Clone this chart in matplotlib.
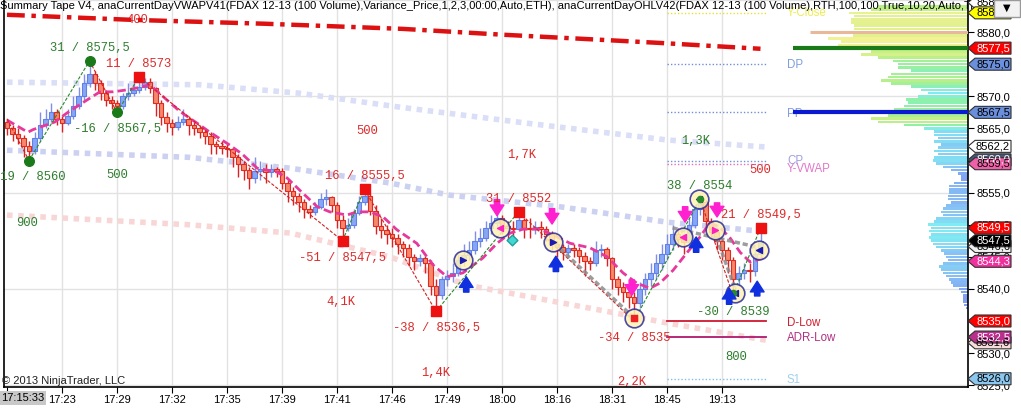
import numpy as np
import matplotlib
matplotlib.use("Agg")
import matplotlib.pyplot as plt
import matplotlib.colors as mcolors
import matplotlib.transforms as mtransforms
from matplotlib.patches import Polygon, Rectangle

plt.rcParams["font.family"] = ["Liberation Sans", "DejaVu Sans"]

W, H = 1021, 413
BAR_PX = 5.5     # pixels per volume bar
PT_PX = 6.42     # pixels per index point

# ---------------------------------------------------------------- price bars
first_open = 8566.0
closes = [
    8565.0, 8564.2, 8563.5, 8562.2, 8561.5, 8563.5, 8565.5, 8566.5, 8567.5, 8566.5,
    8565.8, 8567.0, 8568.5, 8570.0, 8572.0, 8573.5, 8572.0, 8570.5, 8569.5, 8569.0,
    8568.5, 8570.0, 8570.5, 8571.0, 8571.5, 8572.3, 8571.3, 8569.0, 8566.8, 8565.8,
    8565.2, 8566.0, 8566.5, 8565.5, 8565.0, 8564.5, 8563.8, 8562.5, 8562.2, 8562.0,
    8561.8, 8560.5, 8559.5, 8558.5, 8557.2, 8558.3, 8558.6, 8558.2, 8558.6, 8558.3,
    8556.5, 8555.2, 8554.5, 8553.5, 8552.5, 8552.0, 8552.8, 8554.0, 8554.3, 8553.0,
    8550.8, 8549.5, 8550.0, 8551.8, 8553.5, 8554.5, 8552.2, 8549.8, 8549.2, 8548.5,
    8548.0, 8547.0, 8546.3, 8545.0, 8544.3, 8544.8, 8544.0, 8540.5, 8539.0, 8541.5,
    8542.0, 8542.5, 8544.5, 8545.3, 8546.0, 8547.5, 8548.0, 8549.5, 8550.3, 8551.0,
    8549.8, 8549.5, 8549.3, 8550.8, 8549.5, 8549.3, 8549.6, 8549.3, 8548.6, 8547.0,
    8546.6, 8545.8, 8546.3, 8546.0, 8545.2, 8544.3, 8544.0, 8546.0, 8546.2, 8544.8,
    8541.5, 8540.3, 8539.5, 8538.8, 8537.8, 8540.0, 8541.5, 8542.5, 8544.0, 8545.5,
    8547.0, 8548.5, 8547.8, 8547.3, 8550.0, 8552.5, 8553.5, 8550.5, 8548.8, 8547.5,
    8546.0, 8544.5, 8541.5, 8542.5, 8543.0, 8542.8, 8545.5, 8547.5,
]
highs = [
    8566.5, 8565.5, 8565.0, 8564.0, 8563.0, 8564.5, 8567.5, 8568.0, 8569.0, 8568.0,
    8567.0, 8568.0, 8570.0, 8571.5, 8573.5, 8575.5, 8574.0, 8572.5, 8571.0, 8570.0,
    8569.5, 8570.5, 8572.0, 8572.5, 8573.0, 8572.8, 8572.8, 8571.5, 8569.5, 8567.5,
    8566.5, 8567.0, 8568.0, 8567.0, 8566.0, 8565.5, 8565.0, 8564.5, 8563.0, 8563.0,
    8562.5, 8562.0, 8561.0, 8560.0, 8559.0, 8560.5, 8560.0, 8559.5, 8559.5, 8559.0,
    8558.8, 8557.0, 8555.8, 8555.0, 8554.0, 8553.0, 8553.5, 8555.0, 8555.5, 8554.5,
    8553.5, 8551.5, 8551.0, 8552.5, 8554.5, 8555.5, 8554.8, 8553.0, 8551.0, 8550.0,
    8549.5, 8548.5, 8547.5, 8547.0, 8545.5, 8545.5, 8545.2, 8544.5, 8541.5, 8542.0,
    8543.0, 8544.0, 8545.5, 8547.0, 8547.5, 8549.0, 8549.5, 8550.5, 8551.5, 8551.8,
    8551.5, 8550.5, 8550.5, 8552.0, 8551.0, 8551.0, 8550.5, 8550.5, 8549.8, 8549.0,
    8547.5, 8547.0, 8547.0, 8547.0, 8546.5, 8545.8, 8545.0, 8547.5, 8547.0, 8546.5,
    8545.0, 8542.0, 8541.0, 8540.0, 8539.5, 8541.0, 8542.5, 8544.0, 8545.5, 8547.0,
    8548.5, 8550.0, 8549.5, 8548.5, 8551.0, 8553.0, 8554.0, 8553.8, 8551.0, 8549.5,
    8548.0, 8546.5, 8545.0, 8543.5, 8544.0, 8544.0, 8546.5, 8549.5,
]
lows = [
    8564.0, 8563.0, 8562.5, 8560.5, 8560.0, 8561.0, 8563.0, 8565.0, 8566.0, 8565.5,
    8564.5, 8565.5, 8566.5, 8568.0, 8569.5, 8571.5, 8571.0, 8569.5, 8568.5, 8568.0,
    8567.5, 8568.0, 8569.5, 8570.0, 8570.5, 8571.0, 8570.5, 8567.0, 8565.5, 8564.5,
    8564.0, 8564.8, 8565.5, 8564.0, 8564.0, 8563.5, 8562.5, 8561.0, 8561.0, 8561.0,
    8560.5, 8559.0, 8557.5, 8557.0, 8555.5, 8556.5, 8557.0, 8556.5, 8557.5, 8557.5,
    8555.5, 8553.5, 8553.0, 8552.0, 8551.0, 8551.0, 8551.5, 8552.5, 8553.0, 8552.0,
    8549.5, 8547.5, 8549.0, 8549.5, 8551.5, 8553.0, 8551.5, 8548.5, 8548.0, 8547.0,
    8546.5, 8545.5, 8545.0, 8543.5, 8543.0, 8543.5, 8542.5, 8539.0, 8536.5, 8538.5,
    8540.5, 8541.0, 8542.0, 8543.5, 8544.5, 8545.5, 8546.5, 8547.5, 8548.5, 8549.5,
    8548.5, 8547.5, 8548.0, 8549.0, 8548.0, 8548.0, 8548.5, 8548.0, 8547.5, 8546.0,
    8545.0, 8544.5, 8545.0, 8545.0, 8544.0, 8542.0, 8543.0, 8543.5, 8545.0, 8543.5,
    8540.0, 8539.0, 8538.0, 8537.0, 8535.0, 8537.0, 8539.0, 8540.5, 8541.5, 8543.0,
    8544.5, 8546.0, 8546.5, 8545.5, 8547.0, 8549.5, 8551.5, 8549.5, 8548.0, 8546.0,
    8544.5, 8542.5, 8539.0, 8540.5, 8541.5, 8541.0, 8542.0, 8545.0,
]

tick_idx = [10, 20, 30, 40, 50, 60, 70, 80, 90, 100, 110, 120, 130]
tick_labels = ["17:23", "17:29", "17:32", "17:35", "17:39", "17:41", "17:46",
               "17:49", "18:00", "18:16", "18:31", "18:45", "19:13"]
first_time = "17:15:33"

# ---------------------------------------------------------------- indicators
red_ma_idx = [0, 23, 47, 72, 90, 108, 119, 137]
red_ma_val = [8582.7, 8581.9, 8581.3, 8580.5, 8579.6, 8578.8, 8578.3, 8577.4]

band_up_idx = [0, 35, 53, 71.5, 95.6, 120, 138]
band_up_val = [8572.2, 8571.8, 8570.5, 8568.3, 8565.7, 8563.2, 8562.1]
band_mid_idx = [0, 33, 51.5, 69.6, 80.5, 100.5, 120, 138]
band_mid_val = [8561.6, 8560.5, 8558.8, 8556.5, 8554.6, 8552.8, 8550.4, 8548.9]
band_lo_idx = [0, 33, 51.5, 69.6, 83.6, 107.8, 120, 138]
band_lo_val = [8551.5, 8550.0, 8548.7, 8545.0, 8540.6, 8536.7, 8534.7, 8532.0]

hma_idx = [0, 3.8, 4.7, 8.7, 10.9, 14.5, 16.9, 19.3, 21.8, 24.2,
           26, 29.1, 31.5, 35.1, 36.9, 40.5, 42.9, 45.5, 49.1, 50.9,
           53.8, 56.4, 58.7, 61.8, 63.6, 66, 68.4, 70.9, 74.5, 77.5,
           80, 82.9, 86.5, 89.1, 91.5, 93.8, 96.9, 99.3, 102.4, 106,
           109.1, 112, 114.5, 116.9, 118.7, 121.1, 123.6, 126, 127.8, 129.6,
           131.5, 133.3, 135.1, 137.5]
hma_val = [8566.3, 8564.4, 8564.8, 8566.0, 8567.4, 8569.4, 8570.7, 8570.7, 8571.0, 8571.4,
           8571.8, 8569.4, 8567.6, 8565.5, 8564.4, 8562.4, 8560.9, 8558.8, 8558.2, 8557.3,
           8554.9, 8552.8, 8552.0, 8551.5, 8552.0, 8552.0, 8551.2, 8549.2, 8547.1, 8543.7,
           8541.9, 8542.5, 8544.8, 8547.1, 8548.7, 8549.3, 8549.3, 8548.4, 8547.1, 8546.4,
           8545.0, 8542.5, 8540.9, 8540.1, 8540.9, 8542.9, 8545.6, 8548.1, 8550.3, 8549.6,
           8547.9, 8545.7, 8544.2, 8544.8]

# swing points (zigzag)
zz_idx = [0, 4, 15, 20, 24, 61, 65, 78, 93, 114, 126, 132, 137]
zz_val = [8566.5, 8560.0, 8575.5, 8567.5, 8573.0, 8547.5, 8555.5, 8536.5, 8552.0,
          8535.0, 8554.0, 8539.0, 8549.5]
swing_idx = [4, 15, 20, 24, 61, 65, 78, 93, 114, 126, 132, 137]
swing_val = [8560.0, 8575.5, 8567.5, 8573.0, 8547.5, 8555.5, 8536.5, 8552.0,
             8535.0, 8554.0, 8539.0, 8549.5]
swing_text = ["-19 / 8560", "31 / 8575,5", "-16 / 8567,5", "11 / 8573", "-51 / 8547,5",
              "16 / 8555,5", "-38 / 8536,5", "31 / 8552", "-34 / 8535", "38 / 8554",
              "-30 / 8539", "21 / 8549,5"]
swing_is_high = [False, True, False, True, False, True, False, True, False, True, False, True]
swing_green = [True, True, True, False, False, False, False, False, False, True, True, False]
swing_dot = [True, True, True, True, True, True, True, True, False, False, False, True]

vol_text = ["400", "900", "500", "500", "4,1K", "1,4K", "1,7K", "2,2K", "1,3K", "500", "800"]
vol_idx = [23.6, 3.6, 20, 65.5, 60.7, 78, 93.6, 113.5, 125.3, 136.9, 132.5]
vol_val = [8581.9, 8550.3, 8557.7, 8564.6, 8538.0, 8526.9, 8560.9, 8525.5, 8563.0, 8558.5, 8529.4]
vol_green = [False, True, True, False, False, False, False, False, True, False, True]

trend_x0 = [99.5, 121.0, 128.5]
trend_y0 = [8547.1, 8549.5, 8549.2]
trend_x1 = [113.5, 136.5, 132.4]
trend_y1 = [8535.9, 8546.5, 8540.0]

circ_idx = [82.9, 89.6, 99.3, 114, 122.9, 125.8, 128.7, 132.4, 136.7]
circ_val = [8544.5, 8549.5, 8547.3, 8535.5, 8548.1, 8554.0, 8549.2, 8539.4, 8546.1]
circ_tri = [">", "<", ">", "<", "<", "<", ">", "<", "<"]
circ_tri_col = ["#1a1ab0", "#ff20c0", "#1a1ab0", "#ff20c0", "#ff20c0", "#1a1ab0",
                "#ff20c0", "#1a1ab0", "#1a1ab0"]

dn_idx = [89.1, 99.1, 113.6, 123.3, 129.1]
dn_tip = [8551.4, 8550.1, 8539.0, 8550.4, 8551.2]
dn_tail = [8553.9, 8552.5, 8541.4, 8552.8, 8553.4]
up_idx = [83.5, 99.8, 125.3, 131.3, 136.4]
up_tip = [8541.9, 8545.1, 8548.1, 8540.1, 8541.2]
up_tail = [8539.5, 8542.7, 8545.7, 8537.6, 8538.9]

diamond_idx = [91.8]
diamond_val = [8547.6]

# right side levels
lvl_names = ["Y-Close", "DP", "PP", "CP", "Y-VWAP", "D-Low", "ADR-Low", "S1"]
lvl_prices = [8583.0, 8575.0, 8567.5, 8560.0, 8559.5, 8535.0, 8532.5, 8526.0]
lvl_lines = ["#e8e030", "#6f8fd8", "#6f8fd8", "#6f8fd8", "#e070b8", "#d01830", "#b01870", "#80c0e8"]
lvl_text = ["#ecec50", "#7f9fdd", "#7f9fdd", "#9f9fdd", "#e078c8", "#d02030", "#b03080", "#a0d0ee"]
lvl_dotted = [True, True, True, True, True, False, False, True]
lvl_label_dy = [0.0, -0.2, -0.2, 0.0, -0.8, -0.3, -0.2, -0.2]
lvl_x0, lvl_x1 = 120, 138

# volume profile (price level, volume)
prof_price = [8584.0 - 0.5 * k for k in range(95)]
prof_vol = [90, 97, 119, 114, 117, 117, 114, 114, 115, 115,
            140, 127, 130, 122, 97, 107, 90, 75, 70, 70,
            57, 77, 80, 87, 77, 57, 47, 40, 50, 62,
            60, 64, 74, 77, 80, 97, 90, 64, 44, 34,
            34, 30, 34, 27, 30, 34, 30, 34, 35, 32,
            25, 17, 10, 7, 7, 14, 19, 19, 19, 20,
            20, 17, 22, 25, 27, 25, 32, 34, 40, 37,
            39, 37, 39, 37, 35, 32, 27, 24, 22, 20,
            25, 29, 27, 25, 22, 19, 17, 15, 9, 7,
            5, 5, 5, 4, 2]
poc_lines = [8580.0, 8577.5, 8567.5]
poc_start = [146.0, 142.9, 142.9]
poc_color = ["#e8b898", "#1a7a1a", "#0a1ad0"]
poc_lw = [2.2, 3.0, 3.0]

tag_prices = [8584.6, 8583.0, 8577.5, 8575.0, 8567.5, 8562.2, 8560.1, 8559.5, 8549.5,
              8546.6, 8547.5, 8544.3, 8535.0, 8531.6, 8532.5, 8526.0]
tag_texts = ["8585,0", "8583,0", "8577,5", "8575,0", "8567,5", "8562,2", "8560,0", "8559,5",
             "8549,5", "8546,6", "8547,5", "8544,3", "8535,0", "8531,6", "8532,5", "8526,0"]
tag_faces = ["#ffffff", "#ffff00", "#ff0000", "#6a8fdc", "#6a8fdc", "#ffffff", "#4a5578",
             "#f060a8", "#ff0000", "#f0f0f0", "#000000", "#f0309c", "#ff0000", "#f8dcdc",
             "#b8308c", "#8ac6ee"]
tag_tcols = ["#000000", "#000000", "#ffffff", "#000000", "#000000", "#000000", "#ffffff",
             "#000000", "#ffffff", "#000000", "#ffffff", "#ffffff", "#ffffff", "#000000",
             "#ffffff", "#000000"]

TITLE = ("Summary Tape V4, anaCurrentDayVWAPV41(FDAX 12-13 (100 Volume),Variance_Price,1,2,3,"
         "00:00,Auto,ETH), anaCurrentDayOHLV42(FDAX 12-13 (100 Volume),RTH,100,100,True,10,20,Auto,Tr")

GREEN_TXT = "#2d7d2d"
RED_TXT = "#dd2a2a"
MONO = ["Liberation Mono", "DejaVu Sans Mono"]


def main():
    n = len(closes)
    idx = np.arange(n)
    c = np.array(closes)
    o = np.array([first_open] + closes[:-1])
    hi = np.array(highs)
    lo = np.array(lows)
    up = c >= o

    fig = plt.figure(figsize=(W / 100, H / 100), dpi=100)
    fig.patch.set_facecolor("white")
    ax = fig.add_axes([4 / W, 26 / H, 964 / W, 387 / H])

    xmin = (4 - 7) / BAR_PX
    xmax = (968 - 7) / BAR_PX
    ymax = 8585.0
    ymin = ymax - 387 / PT_PX

    # grid
    for t in tick_idx:
        ax.axvline(t, color="#e2e2e2", lw=1, zorder=0)
    for g in [8525, 8540, 8555, 8570, 8585]:
        ax.axhline(g, color="#e2e2e2", lw=1, zorder=0)

    # bands
    dots = dict(lw=4, linestyle=(0, (1, 1)), dash_capstyle="butt", zorder=1)
    ax.plot(band_up_idx, band_up_val, color="#dadef7", **dots)
    ax.plot(band_mid_idx, band_mid_val, color="#ccd1f2", **dots)
    ax.plot(band_lo_idx, band_lo_val, color="#f9d6d6", **dots)

    # volume texts (behind the red MA)
    for t, xi, yv, g in zip(vol_text, vol_idx, vol_val, vol_green):
        ax.text(xi, yv, t, family=MONO, fontsize=8.7, color=GREEN_TXT if g else RED_TXT,
                ha="center", va="center", zorder=2)

    ax.plot(red_ma_idx, red_ma_val, color="#dd1111", lw=3.2,
            linestyle=(0, (4, 1.5, 1, 1.5)), zorder=3)

    # candles
    ax.vlines(idx[up], lo[up], hi[up], color="#7f8fe6", lw=1, zorder=3)
    ax.vlines(idx[~up], lo[~up], hi[~up], color="#e02020", lw=1, zorder=3)
    body = np.maximum(np.abs(c - o), 0.15)
    bottom = np.minimum(c, o)
    ax.bar(idx[up], body[up], bottom=bottom[up], width=0.8, color="#88a6f4",
           edgecolor="#5f80e6", lw=0.8, zorder=4)
    ax.bar(idx[~up], body[~up], bottom=bottom[~up], width=0.8, color="#f5876a",
           edgecolor="#e02a20", lw=0.8, zorder=4)

    # smoothed average
    ax.plot(hma_idx, hma_val, color="#e6399b", lw=2, linestyle=(0, (3, 1.5)), zorder=5)

    # zigzag
    for k in range(len(zz_idx) - 1):
        col = "#2a8a2a" if zz_val[k + 1] > zz_val[k] else "#d42020"
        ax.plot(zz_idx[k:k + 2], zz_val[k:k + 2], color=col, lw=0.8,
                linestyle=(0, (3, 1.5)), zorder=5)

    for x0, y0, x1, y1 in zip(trend_x0, trend_y0, trend_x1, trend_y1):
        ax.plot([x0, x1], [y0, y1], color="#8c8c8c", lw=2.5, linestyle=(0, (1.5, 0.8)),
                alpha=0.85, zorder=5)

    # circles + triangles
    ax.scatter(circ_idx, circ_val, s=180, facecolor="#fff2b4", edgecolor="#2a2a9a",
               lw=1.2, alpha=0.85, zorder=6)
    for xi, yv, m, col in zip(circ_idx, circ_val, circ_tri, circ_tri_col):
        ax.scatter([xi], [yv], marker=m, s=18, color=col, zorder=7)

    # swing dots
    for xi, yv, g, d in zip(swing_idx, swing_val, swing_green, swing_dot):
        if not d:
            continue
        if g:
            ax.scatter([xi], [yv], marker="o", s=48, color="#1a7a1a", zorder=7)
        else:
            ax.scatter([xi], [yv], marker="s", s=45, color="#ee1111", zorder=7)
    ax.scatter([114], [8535.5], marker="s", s=20, color="#ee2222", zorder=7)
    ax.scatter([126, 132], [8554.0, 8539.4], marker="o", s=20, color="#2a8a2a", zorder=7)

    ax.scatter(diamond_idx, diamond_val, marker="D", s=30, color="#40d8d0",
               edgecolor="#20a0a0", zorder=7)

    # arrows
    for xi, tip, tail in zip(dn_idx, dn_tip, dn_tail):
        ax.annotate("", xy=(xi, tip), xytext=(xi, tail), zorder=8,
                    arrowprops=dict(arrowstyle="simple,head_width=0.9,head_length=0.7,tail_width=0.35",
                                    color="#ff20d0", mutation_scale=11, shrinkA=0, shrinkB=0))
    for xi, tip, tail in zip(up_idx, up_tip, up_tail):
        ax.annotate("", xy=(xi, tip), xytext=(xi, tail), zorder=8,
                    arrowprops=dict(arrowstyle="simple,head_width=0.9,head_length=0.7,tail_width=0.35",
                                    color="#1030e0", mutation_scale=11, shrinkA=0, shrinkB=0))

    # swing labels
    for xi, yv, t, hi_, g in zip(swing_idx, swing_val, swing_text, swing_is_high, swing_green):
        dy = 13 if hi_ else -17
        ax.annotate(t, xy=(xi, yv), xytext=(0, dy), textcoords="offset pixels",
                    ha="center", va="center", family=MONO, fontsize=8.7,
                    color=GREEN_TXT if g else RED_TXT, zorder=9, annotation_clip=False)

    # right side levels
    for name, p, lc, tc, dotted, dy in zip(lvl_names, lvl_prices, lvl_lines, lvl_text,
                                           lvl_dotted, lvl_label_dy):
        if dotted:
            ax.plot([lvl_x0, lvl_x1], [p, p], color=lc, lw=1, linestyle=(0, (1, 1.5)), zorder=2)
        else:
            ax.plot([lvl_x0, lvl_x1], [p, p], color=lc, lw=1.3, zorder=2)
        ax.text(141.8, p + dy, name, color=tc, fontsize=8.3, ha="left", va="center", zorder=3)

    # volume profile
    cmap = mcolors.LinearSegmentedColormap.from_list(
        "prof", [(0.0, "#7f98f2"), (0.2, "#86c4f6"), (0.32, "#80ecf2"),
                 (0.5, "#8ef0a8"), (0.75, "#c0f084"), (1.0, "#f2f294")])
    pnorm = mcolors.Normalize(0, 125)
    widths = np.array(prof_vol) / BAR_PX
    ax.barh(prof_price, widths, left=xmax - widths, height=0.4,
            color=cmap(pnorm(np.array(prof_vol))), zorder=2)
    for p, x0, col, lw in zip(poc_lines, poc_start, poc_color, poc_lw):
        ax.plot([x0, xmax], [p, p], color=col, lw=lw, solid_capstyle="butt", zorder=3)

    ax.set_xlim(xmin, xmax)
    ax.set_ylim(ymin, ymax)

    # axes styling
    ax.spines["top"].set_visible(False)
    for s in ["left", "right", "bottom"]:
        ax.spines[s].set_color("black")
        ax.spines[s].set_linewidth(1.2)
    ax.yaxis.tick_right()
    yt = np.arange(8525, 8586, 5)
    ax.set_yticks(yt)
    ax.set_yticklabels([f"{v:.1f}".replace(".", ",") for v in yt])
    ax.tick_params(axis="y", length=4, pad=2, labelsize=8, colors="black")
    ax.set_xticks([0] + tick_idx)
    ax.set_xticklabels([""] + tick_labels)
    ax.tick_params(axis="x", length=4, pad=2, labelsize=8, colors="black")

    # texts on figure
    fig.text(1 / W, 1 - 398 / H, first_time, fontsize=8, ha="left", va="center",
             bbox=dict(boxstyle="square,pad=0.15", facecolor="#c8c8c8", edgecolor="none"))
    fig.text(2 / W, 1 - 381 / H, "\u00a9 2013 NinjaTrader, LLC", fontsize=8,
             ha="left", va="center", color="#202020", zorder=30)
    fig.text(0, 1 - 6 / H, TITLE, fontsize=8, ha="left", va="center", color="black", zorder=15)

    # price tags on the right axis
    tag_tf = mtransforms.blended_transform_factory(fig.transFigure, ax.transData)
    half = 6.0 / PT_PX
    x_tip, x_sh, x_end = 968 / W, 975 / W, 1011 / W
    for p, t, fc, tc in zip(tag_prices, tag_texts, tag_faces, tag_tcols):
        poly = Polygon([(x_tip, p), (x_sh, p + half), (x_end, p + half),
                        (x_end, p - half), (x_sh, p - half)], closed=True,
                       transform=tag_tf, facecolor=fc, edgecolor="#303030", lw=0.8, zorder=20)
        fig.add_artist(poly)
        fig.text(993 / W, p, t, transform=tag_tf, fontsize=8, color=tc,
                 ha="center", va="center", zorder=21)

    fig.add_artist(Rectangle((994 / W, 1 - 17 / H), 26 / W, 17 / H, transform=fig.transFigure,
                             facecolor="#f2f2f2", edgecolor="#9a9a9a", lw=1, zorder=25))
    fig.text(1007 / W, 1 - 8 / H, "\u25bc", fontsize=7, ha="center", va="center",
             family=["DejaVu Sans"], zorder=26)

    fig.savefig("out.png", dpi=100, facecolor="white")


if __name__ == "__main__":
    main()
